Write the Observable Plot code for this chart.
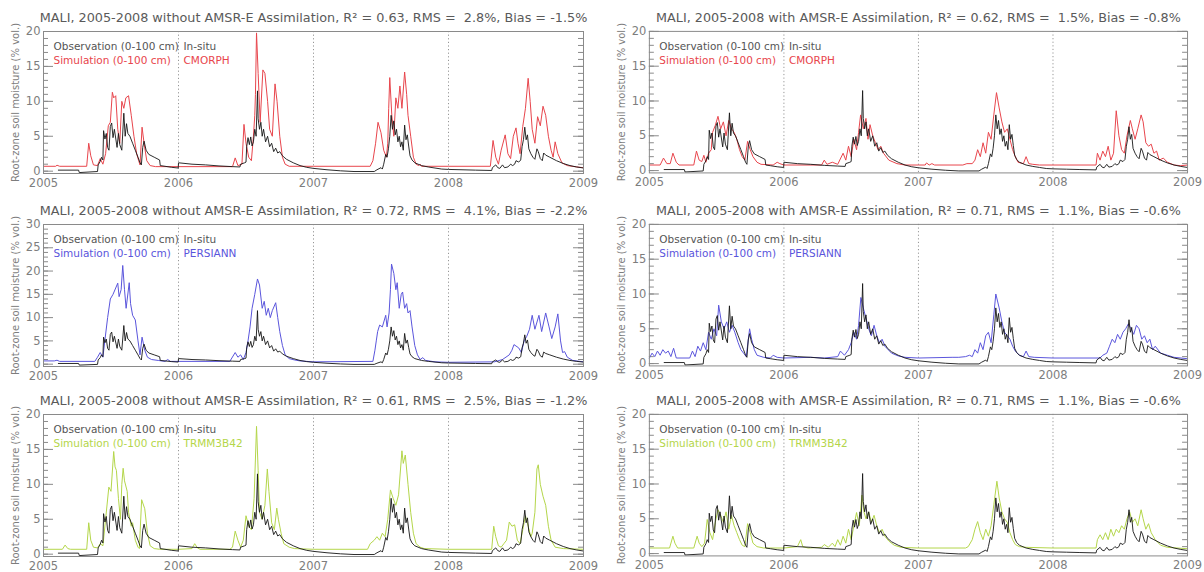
<!DOCTYPE html>
<html><head><meta charset="utf-8">
<script src="https://cdn.jsdelivr.net/npm/d3@7"></script>
<script src="https://cdn.jsdelivr.net/npm/@observablehq/plot@0.6"></script>
<style>
body{margin:0;background:#fff;}
#wrap{position:relative;width:1204px;height:572px;overflow:hidden;background:#fff}
.panel{position:absolute}
</style></head><body><div id="wrap"></div>
<script>
const years = [2005, 2006, 2007, 2008, 2009];
const yearLines = [2006, 2007, 2008];

const titles = [
  "MALI, 2005-2008 without AMSR-E Assimilation, R² = 0.63, RMS =\u00A0\u00A02.8%, Bias = -1.5%",
  "MALI, 2005-2008 with AMSR-E Assimilation, R² = 0.62, RMS =\u00A0\u00A01.5%, Bias = -0.8%",
  "MALI, 2005-2008 without AMSR-E Assimilation, R² = 0.72, RMS =\u00A0\u00A04.1%, Bias = -2.2%",
  "MALI, 2005-2008 with AMSR-E Assimilation, R² = 0.71, RMS =\u00A0\u00A01.1%, Bias = -0.6%",
  "MALI, 2005-2008 without AMSR-E Assimilation, R² = 0.61, RMS =\u00A0\u00A02.5%, Bias = -1.2%",
  "MALI, 2005-2008 with AMSR-E Assimilation, R² = 0.71, RMS =\u00A0\u00A01.1%, Bias = -0.6%"
];
const products = ["CMORPH", "CMORPH", "PERSIANN", "PERSIANN", "TRMM3B42", "TRMM3B42"];
const simColors = ["#e8454c", "#e8454c", "#5a55dc", "#5a55dc", "#b4d64a", "#b4d64a"];
const yMaxes = [20, 20, 30, 20, 20, 20];
const obsLabel = "Observation (0-100 cm)";
const simLabel = "Simulation (0-100 cm)";
const obsSource = "In-situ";
const yTitle = "Root-zone soil moisture (% vol.)";

// In-situ observation (decimal year, % vol.)
const obs = [[2005.11,0.15],[2005.26,0.15],[2005.265,-0.2],[2005.40,-0.05],[2005.405,0.9],[2005.42,1.4],[2005.43,2.0],[2005.44,1.6],[2005.445,5.8],[2005.455,4.6],[2005.465,5.4],[2005.475,3.4],[2005.485,3.0],[2005.495,6.4],[2005.505,6.9],[2005.515,4.8],[2005.525,6.0],[2005.545,3.4],[2005.555,5.4],[2005.565,3.8],[2005.58,3.0],[2005.595,8.3],[2005.605,5.0],[2005.615,6.8],[2005.625,5.4],[2005.64,5.0],[2005.66,4.0],[2005.68,3.0],[2005.70,2.0],[2005.715,1.2],[2005.725,0.9],[2005.735,3.4],[2005.745,4.3],[2005.76,3.0],[2005.78,2.4],[2005.82,2.0],[2005.86,1.6],[2005.865,0.8],[2005.90,0.7],[2005.95,0.55],[2005.998,0.45],[2006.0,1.2],[2006.1,1.0],[2006.2,0.9],[2006.3,0.75],[2006.4,0.65],[2006.455,0.6],[2006.46,1.0],[2006.49,1.2],[2006.50,1.3],[2006.505,3.5],[2006.515,4.8],[2006.525,3.8],[2006.535,4.9],[2006.545,3.6],[2006.555,4.2],[2006.565,6.0],[2006.575,5.0],[2006.585,11.5],[2006.59,7.5],[2006.60,6.0],[2006.61,7.0],[2006.62,5.0],[2006.63,6.0],[2006.645,4.2],[2006.66,5.0],[2006.675,3.5],[2006.69,4.0],[2006.705,2.8],[2006.72,3.3],[2006.735,2.6],[2006.75,2.8],[2006.77,2.2],[2006.80,1.7],[2006.85,1.2],[2006.90,0.8],[2006.95,0.55],[2007.0,0.4],[2007.1,0.2],[2007.2,0.05],[2007.3,-0.05],[2007.45,-0.05],[2007.47,0.2],[2007.50,0.5],[2007.51,0.3],[2007.52,1.0],[2007.535,2.4],[2007.545,2.0],[2007.555,3.2],[2007.565,5.0],[2007.575,8.0],[2007.585,6.0],[2007.595,7.2],[2007.605,5.2],[2007.615,6.0],[2007.625,4.2],[2007.635,5.0],[2007.645,3.5],[2007.655,4.2],[2007.665,3.0],[2007.675,6.6],[2007.685,4.5],[2007.695,5.2],[2007.705,3.6],[2007.715,2.2],[2007.73,1.6],[2007.75,1.2],[2007.80,0.8],[2007.85,0.6],[2007.90,0.45],[2007.95,0.3],[2008.0,0.25],[2008.1,0.2],[2008.2,0.15],[2008.32,0.1],[2008.325,0.5],[2008.35,0.9],[2008.365,0.5],[2008.38,0.4],[2008.40,0.9],[2008.415,0.5],[2008.44,0.6],[2008.46,1.0],[2008.475,0.8],[2008.49,1.0],[2008.50,1.5],[2008.52,1.3],[2008.535,1.6],[2008.545,3.5],[2008.555,4.5],[2008.565,6.3],[2008.575,4.5],[2008.585,5.2],[2008.595,3.2],[2008.61,2.5],[2008.625,2.0],[2008.64,1.7],[2008.655,3.2],[2008.665,2.8],[2008.68,1.8],[2008.695,1.5],[2008.705,2.6],[2008.72,2.3],[2008.75,2.0],[2008.80,1.5],[2008.85,1.1],[2008.90,0.8],[2008.95,0.6],[2009.0,0.45]];

// Simulations
const simCmorphOpen = [[2005.0,0.7],[2005.09,0.7],[2005.10,0.85],[2005.12,0.7],[2005.32,0.7],[2005.335,4.0],[2005.35,2.2],[2005.37,0.9],[2005.40,0.8],[2005.42,1.8],[2005.44,1.0],[2005.46,2.5],[2005.48,6.5],[2005.495,7.0],[2005.51,11.3],[2005.52,10.5],[2005.535,10.8],[2005.55,6.0],[2005.565,4.0],[2005.58,10.0],[2005.595,9.0],[2005.61,10.5],[2005.63,10.8],[2005.65,8.0],[2005.67,5.0],[2005.69,2.5],[2005.705,1.5],[2005.715,0.9],[2005.73,6.3],[2005.745,4.0],[2005.765,1.5],[2005.79,0.8],[2005.83,0.65],[2006.0,0.65],[2006.40,0.65],[2006.42,1.9],[2006.44,0.8],[2006.47,1.0],[2006.485,6.7],[2006.50,4.0],[2006.52,2.0],[2006.54,1.5],[2006.555,5.0],[2006.565,8.0],[2006.57,11.0],[2006.578,19.8],[2006.59,14.0],[2006.605,7.0],[2006.625,14.5],[2006.64,14.0],[2006.66,10.0],[2006.675,6.0],[2006.695,5.0],[2006.715,12.5],[2006.73,10.0],[2006.75,5.0],[2006.77,2.0],[2006.79,1.0],[2006.82,0.7],[2007.0,0.7],[2007.42,0.7],[2007.44,1.5],[2007.46,4.0],[2007.478,7.0],[2007.50,5.5],[2007.52,3.0],[2007.54,2.0],[2007.55,4.0],[2007.557,9.0],[2007.565,13.4],[2007.58,8.0],[2007.595,5.0],[2007.61,10.5],[2007.625,9.0],[2007.64,12.2],[2007.655,9.0],[2007.675,14.2],[2007.69,11.0],[2007.70,8.0],[2007.72,5.0],[2007.74,2.0],[2007.76,1.0],[2007.78,0.8],[2007.79,1.0],[2007.80,0.7],[2008.0,0.7],[2008.31,0.7],[2008.33,4.4],[2008.35,2.0],[2008.37,1.0],[2008.39,3.0],[2008.42,5.2],[2008.44,2.5],[2008.46,1.8],[2008.48,5.0],[2008.50,6.2],[2008.515,4.0],[2008.53,2.5],[2008.55,6.4],[2008.57,9.0],[2008.59,13.3],[2008.605,10.0],[2008.62,6.0],[2008.64,4.0],[2008.66,7.8],[2008.68,6.5],[2008.70,9.3],[2008.72,8.0],[2008.74,5.0],[2008.76,3.0],[2008.775,2.0],[2008.79,4.2],[2008.81,2.5],[2008.84,1.2],[2008.88,0.8],[2008.95,0.6],[2009.0,0.5]];

const simCmorphAssim = [[2005.0,0.8],[2005.08,0.8],[2005.105,1.8],[2005.13,1.0],[2005.155,1.0],[2005.175,2.5],[2005.20,1.2],[2005.22,0.8],[2005.33,0.8],[2005.35,2.8],[2005.37,1.5],[2005.39,1.3],[2005.405,2.2],[2005.42,1.2],[2005.44,2.5],[2005.46,3.0],[2005.47,5.5],[2005.49,6.5],[2005.51,7.8],[2005.53,6.0],[2005.55,7.0],[2005.57,5.0],[2005.59,7.2],[2005.61,6.0],[2005.63,5.5],[2005.65,4.5],[2005.67,3.0],[2005.69,2.0],[2005.71,1.5],[2005.73,4.2],[2005.75,3.0],[2005.77,2.0],[2005.80,1.2],[2005.83,0.9],[2005.92,0.8],[2005.95,1.2],[2005.97,1.0],[2006.0,0.8],[2006.28,0.8],[2006.30,1.5],[2006.32,0.9],[2006.36,1.2],[2006.40,0.9],[2006.44,2.5],[2006.46,1.5],[2006.48,3.5],[2006.50,2.0],[2006.52,4.5],[2006.54,3.0],[2006.555,5.5],[2006.57,8.0],[2006.59,6.0],[2006.61,7.5],[2006.625,4.5],[2006.64,6.6],[2006.66,5.0],[2006.68,4.0],[2006.70,3.0],[2006.72,3.5],[2006.74,2.5],[2006.78,1.5],[2006.84,1.0],[2006.9,0.8],[2007.0,0.8],[2007.05,0.8],[2007.06,1.1],[2007.08,0.8],[2007.10,1.0],[2007.12,0.8],[2007.33,0.8],[2007.36,1.0],[2007.40,1.0],[2007.42,1.5],[2007.44,3.0],[2007.46,2.0],[2007.48,4.0],[2007.50,2.5],[2007.52,5.5],[2007.54,4.5],[2007.56,8.0],[2007.58,11.2],[2007.60,9.0],[2007.62,7.0],[2007.64,5.5],[2007.66,6.0],[2007.68,4.5],[2007.70,3.0],[2007.72,2.0],[2007.74,1.2],[2007.78,1.0],[2007.80,2.0],[2007.82,1.0],[2007.85,0.9],[2007.9,0.8],[2008.0,0.8],[2008.32,0.8],[2008.33,2.5],[2008.35,1.5],[2008.37,2.8],[2008.39,2.0],[2008.41,3.5],[2008.43,1.5],[2008.45,2.5],[2008.47,8.6],[2008.49,5.0],[2008.51,3.0],[2008.53,2.5],[2008.55,5.0],[2008.575,7.2],[2008.59,6.0],[2008.61,4.5],[2008.63,6.0],[2008.655,8.0],[2008.67,7.0],[2008.69,4.0],[2008.71,3.5],[2008.73,3.8],[2008.75,2.5],[2008.77,2.8],[2008.79,1.5],[2008.82,1.8],[2008.85,1.2],[2008.9,0.8],[2008.95,0.7],[2009.0,0.8]];

const simPersiannOpen = [[2005.0,0.7],[2005.08,0.7],[2005.10,0.85],[2005.12,0.6],[2005.38,0.6],[2005.40,1.5],[2005.42,2.5],[2005.44,1.5],[2005.455,5.2],[2005.475,10.0],[2005.495,14.0],[2005.515,15.0],[2005.55,17.4],[2005.56,14.5],[2005.575,16.0],[2005.587,21.2],[2005.60,16.0],[2005.612,12.0],[2005.635,17.5],[2005.645,13.0],[2005.66,10.5],[2005.68,9.5],[2005.70,5.0],[2005.715,2.0],[2005.73,5.8],[2005.75,3.0],[2005.77,1.5],[2005.80,1.0],[2005.85,0.8],[2005.90,0.6],[2005.92,1.0],[2005.94,0.6],[2006.0,0.6],[2006.38,0.6],[2006.42,2.5],[2006.44,1.5],[2006.46,2.0],[2006.48,1.0],[2006.50,2.5],[2006.515,5.0],[2006.53,8.0],[2006.545,12.0],[2006.565,15.0],[2006.585,18.3],[2006.60,17.0],[2006.62,12.0],[2006.635,13.5],[2006.65,10.5],[2006.665,12.0],[2006.68,10.0],[2006.695,11.5],[2006.72,13.2],[2006.735,10.0],[2006.75,7.0],[2006.77,4.0],[2006.79,2.0],[2006.82,1.2],[2006.86,0.9],[2006.9,0.7],[2007.0,0.5],[2007.44,0.6],[2007.455,3.0],[2007.465,5.0],[2007.475,7.0],[2007.49,8.4],[2007.51,8.0],[2007.535,10.5],[2007.545,8.0],[2007.56,11.0],[2007.57,16.0],[2007.578,21.5],[2007.595,19.5],[2007.61,16.0],[2007.62,17.5],[2007.635,12.0],[2007.65,15.0],[2007.66,15.5],[2007.675,12.0],[2007.69,13.0],[2007.70,11.0],[2007.715,11.5],[2007.73,8.0],[2007.75,4.0],[2007.77,2.0],[2007.79,1.0],[2007.81,1.4],[2007.83,0.8],[2007.9,0.5],[2008.0,0.4],[2008.34,0.5],[2008.40,1.0],[2008.45,2.0],[2008.47,3.0],[2008.485,4.2],[2008.52,3.5],[2008.54,2.5],[2008.56,5.0],[2008.58,6.0],[2008.60,7.5],[2008.62,10.5],[2008.64,7.5],[2008.67,10.5],[2008.69,7.0],[2008.72,11.0],[2008.745,8.0],[2008.765,5.5],[2008.79,8.0],[2008.81,10.8],[2008.83,5.0],[2008.845,2.5],[2008.86,2.7],[2008.88,1.5],[2008.92,0.8],[2009.0,0.5]];

const simPersiannAssim = [[2005.0,0.8],[2005.02,1.5],[2005.04,1.0],[2005.06,1.8],[2005.08,1.2],[2005.10,2.0],[2005.12,1.5],[2005.14,1.8],[2005.16,1.0],[2005.18,2.2],[2005.20,0.8],[2005.30,0.8],[2005.32,1.8],[2005.34,1.0],[2005.36,2.5],[2005.38,1.8],[2005.40,3.0],[2005.42,2.0],[2005.44,4.5],[2005.46,3.5],[2005.48,5.0],[2005.50,4.0],[2005.515,8.4],[2005.535,6.0],[2005.555,5.0],[2005.575,6.0],[2005.595,4.5],[2005.615,5.5],[2005.635,4.5],[2005.66,3.0],[2005.68,2.0],[2005.70,1.5],[2005.72,1.0],[2005.745,5.0],[2005.76,3.5],[2005.78,2.0],[2005.80,1.2],[2005.85,0.9],[2005.9,0.8],[2005.92,1.2],[2005.95,0.9],[2006.0,0.8],[2006.2,0.9],[2006.3,0.8],[2006.40,1.0],[2006.42,1.8],[2006.45,1.2],[2006.48,2.0],[2006.50,3.0],[2006.52,4.5],[2006.54,3.5],[2006.555,5.5],[2006.572,9.5],[2006.59,8.0],[2006.61,6.5],[2006.63,5.0],[2006.65,4.0],[2006.67,5.5],[2006.69,4.0],[2006.71,3.0],[2006.73,3.5],[2006.75,2.5],[2006.8,1.5],[2006.85,1.1],[2006.9,0.9],[2007.0,0.8],[2007.25,0.9],[2007.3,0.9],[2007.35,1.0],[2007.38,1.2],[2007.40,1.0],[2007.42,2.0],[2007.44,1.5],[2007.46,3.0],[2007.48,2.0],[2007.50,4.0],[2007.52,4.5],[2007.54,3.0],[2007.56,7.0],[2007.575,10.0],[2007.60,8.0],[2007.62,6.0],[2007.64,4.5],[2007.66,4.0],[2007.68,3.5],[2007.70,2.5],[2007.72,1.8],[2007.75,1.2],[2007.78,1.0],[2007.80,1.8],[2007.82,1.0],[2007.86,0.9],[2008.0,0.8],[2008.35,0.8],[2008.37,1.2],[2008.40,1.5],[2008.42,2.5],[2008.44,3.5],[2008.46,3.0],[2008.48,4.2],[2008.50,3.5],[2008.52,4.5],[2008.54,5.0],[2008.56,5.7],[2008.58,5.0],[2008.60,4.2],[2008.62,5.5],[2008.64,5.0],[2008.66,3.5],[2008.68,4.0],[2008.70,3.0],[2008.72,3.5],[2008.74,2.0],[2008.76,2.5],[2008.80,1.5],[2008.85,1.2],[2008.9,0.9],[2009.0,0.7]];

const simTrmmOpen = [[2005.0,0.7],[2005.14,0.7],[2005.16,1.3],[2005.18,0.8],[2005.20,0.7],[2005.32,0.7],[2005.335,4.5],[2005.35,2.0],[2005.37,1.0],[2005.40,0.9],[2005.42,1.5],[2005.44,1.2],[2005.46,5.0],[2005.484,9.6],[2005.50,9.0],[2005.52,14.7],[2005.53,12.5],[2005.54,12.0],[2005.555,8.0],[2005.57,5.0],[2005.58,10.0],[2005.59,12.3],[2005.60,10.5],[2005.62,9.0],[2005.63,6.0],[2005.65,4.0],[2005.66,4.5],[2005.68,2.0],[2005.70,1.0],[2005.71,0.8],[2005.727,7.8],[2005.75,6.5],[2005.77,3.0],[2005.79,1.2],[2005.82,0.8],[2005.86,0.7],[2006.0,0.7],[2006.10,0.8],[2006.12,1.5],[2006.14,0.9],[2006.16,0.7],[2006.38,0.7],[2006.40,1.0],[2006.42,3.3],[2006.44,2.0],[2006.46,1.0],[2006.48,2.0],[2006.50,5.5],[2006.52,4.0],[2006.54,3.5],[2006.56,8.0],[2006.578,18.3],[2006.59,12.0],[2006.60,6.0],[2006.62,5.0],[2006.64,7.0],[2006.658,12.2],[2006.67,9.0],[2006.69,4.5],[2006.71,3.5],[2006.728,6.6],[2006.74,5.0],[2006.76,3.0],[2006.78,1.5],[2006.82,1.0],[2006.86,0.8],[2007.0,0.7],[2007.40,0.7],[2007.42,1.5],[2007.45,2.0],[2007.47,2.5],[2007.49,2.0],[2007.51,3.0],[2007.53,2.5],[2007.55,5.0],[2007.57,9.2],[2007.59,8.0],[2007.61,7.0],[2007.63,8.5],[2007.655,14.8],[2007.665,13.0],[2007.68,14.2],[2007.70,10.0],[2007.72,6.0],[2007.74,3.0],[2007.76,1.5],[2007.79,1.0],[2007.82,0.8],[2008.0,0.7],[2008.32,0.7],[2008.335,4.0],[2008.35,2.5],[2008.37,1.2],[2008.39,1.0],[2008.41,1.5],[2008.43,2.0],[2008.45,4.6],[2008.47,4.0],[2008.49,4.2],[2008.51,2.0],[2008.53,1.5],[2008.55,3.5],[2008.57,5.5],[2008.59,4.0],[2008.61,2.5],[2008.62,3.0],[2008.64,6.0],[2008.655,12.2],[2008.665,12.8],[2008.68,10.0],[2008.70,8.3],[2008.72,7.0],[2008.74,4.0],[2008.76,2.0],[2008.79,1.0],[2008.85,0.8],[2009.0,0.7]];

const simTrmmAssim = [[2005.0,0.8],[2005.15,0.8],[2005.175,2.5],[2005.19,1.5],[2005.21,0.8],[2005.33,0.8],[2005.355,2.5],[2005.37,1.5],[2005.39,1.0],[2005.41,1.5],[2005.43,4.9],[2005.45,3.0],[2005.47,2.0],[2005.49,4.5],[2005.51,6.3],[2005.53,5.5],[2005.55,4.5],[2005.57,6.0],[2005.59,3.5],[2005.61,5.5],[2005.63,4.0],[2005.65,3.0],[2005.67,2.0],[2005.69,1.2],[2005.71,1.0],[2005.73,4.3],[2005.75,3.0],[2005.77,1.5],[2005.80,1.0],[2005.85,0.8],[2006.0,0.8],[2006.10,1.0],[2006.125,2.0],[2006.14,1.0],[2006.18,0.8],[2006.28,0.9],[2006.30,1.3],[2006.33,0.9],[2006.36,1.5],[2006.38,1.0],[2006.40,2.0],[2006.42,1.2],[2006.44,2.5],[2006.46,1.5],[2006.48,3.5],[2006.50,2.0],[2006.52,4.0],[2006.54,5.9],[2006.56,4.0],[2006.58,8.4],[2006.595,6.0],[2006.61,5.0],[2006.63,6.0],[2006.65,4.5],[2006.67,5.5],[2006.69,4.0],[2006.71,3.0],[2006.73,3.5],[2006.75,2.5],[2006.78,1.8],[2006.82,1.2],[2006.87,0.9],[2007.0,0.8],[2007.35,0.8],[2007.37,1.0],[2007.40,2.0],[2007.42,3.5],[2007.44,4.6],[2007.46,3.0],[2007.48,2.0],[2007.50,3.5],[2007.52,2.5],[2007.54,4.0],[2007.56,7.0],[2007.583,10.4],[2007.60,8.0],[2007.62,6.0],[2007.64,5.0],[2007.66,4.5],[2007.68,3.0],[2007.70,2.0],[2007.72,1.3],[2007.75,1.0],[2007.8,0.9],[2008.0,0.8],[2008.32,0.8],[2008.33,2.0],[2008.35,2.7],[2008.37,2.0],[2008.39,3.0],[2008.41,2.0],[2008.43,3.5],[2008.45,2.5],[2008.47,3.5],[2008.49,3.0],[2008.51,4.0],[2008.53,3.5],[2008.55,5.0],[2008.57,6.0],[2008.59,4.5],[2008.61,5.0],[2008.63,4.0],[2008.655,6.3],[2008.67,5.0],[2008.69,3.5],[2008.71,4.3],[2008.73,3.0],[2008.76,2.0],[2008.80,1.2],[2008.85,0.9],[2009.0,0.7]];

const sims = [simCmorphOpen, simCmorphAssim, simPersiannOpen, simPersiannAssim, simTrmmOpen, simTrmmAssim];

const W = 600, H = 193, ML = 43, MR = 17, MT = 31, MB = 20;
const innerW = W - ML - MR;
const font = "DejaVu Sans, Verdana, sans-serif";
const grey = "#7d7d7d";

function panel(i) {
  const yMax = yMaxes[i];
  const color = simColors[i];
  const major = d3.range(0, yMax + 1, 5);
  const minor = d3.range(0, yMax + 1, 1);
  const pad = yMax / 60;
  return Plot.plot({
    width: W, height: H,
    marginLeft: ML, marginRight: MR, marginTop: MT, marginBottom: MB,
    style: {fontFamily: font, background: "transparent", overflow: "visible"},
    x: {domain: [years[0], years[years.length - 1]], label: null},
    y: {domain: [-pad, yMax], label: null},
    marks: [
      Plot.ruleX(yearLines, {stroke: "#8a8a8a", strokeWidth: 0.9, strokeDasharray: "1.2,2.4"}),
      Plot.tickY(minor, {y: d => d, stroke: "#8a8a8a", insetRight: innerW - 5}),
      Plot.tickY(minor, {y: d => d, stroke: "#8a8a8a", insetLeft: innerW - 5}),
      Plot.tickY(major, {y: d => d, stroke: "#8a8a8a", insetRight: innerW - 10}),
      Plot.tickY(major, {y: d => d, stroke: "#8a8a8a", insetLeft: innerW - 10}),
      Plot.axisY({ticks: major, tickSize: 0, tickPadding: 3, fontSize: 11.5, fill: grey, label: null}),
      Plot.axisX({ticks: years, tickFormat: d3.format("d"), tickSize: 0, tickPadding: 5, fontSize: 11.5, fill: grey, label: null}),
      Plot.line(sims[i], {x: d => d[0], y: d => d[1], stroke: color, strokeWidth: 1}),
      Plot.line(obs, {x: d => d[0], y: d => d[1], stroke: "#151515", strokeWidth: 0.9}),
      Plot.frame({stroke: "#8a8a8a"}),
      Plot.text([titles[i]], {frameAnchor: "top", dy: -19, fontSize: 12.8, fill: "#5a5a5a"}),
      Plot.text([obsLabel], {frameAnchor: "top-left", dx: 10, dy: 11, textAnchor: "start", fontSize: 10.5, fill: "#555"}),
      Plot.text([simLabel], {frameAnchor: "top-left", dx: 10, dy: 25, textAnchor: "start", fontSize: 10.5, fill: color}),
      Plot.text([obsSource], {x: [yearLines[0]], frameAnchor: "top", dx: 5, dy: 11, textAnchor: "start", fontSize: 10.5, fill: "#555"}),
      Plot.text([products[i]], {x: [yearLines[0]], frameAnchor: "top", dx: 5, dy: 25, textAnchor: "start", fontSize: 10.5, fill: color}),
      Plot.text([yTitle], {frameAnchor: "left", textAnchor: "middle", rotate: -90, dx: -28, fontSize: 10, fill: grey})
    ]
  });
}

const wrap = document.getElementById("wrap");
const lefts = [0, 606];
const tops = [0, 193, 383];
for (let i = 0; i < 6; i++) {
  const div = document.createElement("div");
  div.className = "panel";
  div.style.left = lefts[i % 2] + "px";
  div.style.top = tops[Math.floor(i / 2)] + "px";
  div.appendChild(panel(i));
  wrap.appendChild(div);
}
</script></body></html>
